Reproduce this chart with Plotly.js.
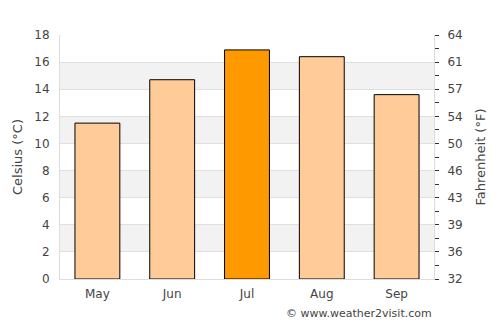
<!DOCTYPE html>
<html>
<head>
<meta charset="utf-8">
<script src="https://cdn.plot.ly/plotly-3.0.1.min.js"></script>
<style>html,body{margin:0;padding:0;background:#fff;}#chart{width:500px;height:325px;}</style>
</head>
<body>
<div id="chart"></div>
<script>
const months = ["May", "Jun", "Jul", "Aug", "Sep"];
const celsius = [11.5, 14.7, 16.9, 16.4, 13.6];
const barColors = ["#ffcc99", "#ffcc99", "#ff9900", "#ffcc99", "#ffcc99"];
const celsiusTicks = [0, 2, 4, 6, 8, 10, 12, 14, 16, 18];
const fahrenheitLabels = ["32", "36", "39", "43", "46", "50", "54", "57", "61", "64"];
const bandRanges = [[2, 4], [6, 8], [10, 12], [14, 16]];

const font = "DejaVu Sans, sans-serif";
const shapes = bandRanges.map(r => ({
  type: "rect", xref: "paper", yref: "y", x0: 0, x1: 1, y0: r[0], y1: r[1],
  fillcolor: "#f2f2f2", line: {width: 0}, layer: "below"
}));

const data = [
  {type: "bar", x: months, y: celsius, width: 0.6,
   marker: {color: barColors, line: {color: "#000", width: 1}},
   hoverinfo: "none", yaxis: "y"},
  {type: "scatter", x: months, y: celsius, yaxis: "y2", mode: "none",
   showlegend: false, hoverinfo: "none"}
];

const layout = {
  width: 500, height: 325,
  margin: {l: 60, r: 66, t: 35, b: 46},
  paper_bgcolor: "#fff", plot_bgcolor: "rgba(0,0,0,0)",
  showlegend: false,
  font: {family: font, size: 12, color: "#444"},
  shapes: shapes,
  xaxis: {
    showgrid: false, zeroline: false, showline: true, linecolor: "#dddddd",
    ticks: "", ticklabelstandoff: 4, tickfont: {size: 12, color: "#444"}
  },
  yaxis: {
    range: [0, 18], tickvals: celsiusTicks, showgrid: true, gridcolor: "#e0e0e0",
    zeroline: false, showline: true, linecolor: "#dddddd", ticks: "",
    ticklabelstandoff: 7, tickfont: {size: 12, color: "#444"},
    title: {text: "Celsius (°C)", font: {size: 13, color: "#444"}, standoff: 8}
  },
  yaxis2: {
    overlaying: "y", side: "right", range: [0, 18],
    tickvals: celsiusTicks, ticktext: fahrenheitLabels,
    showgrid: false, zeroline: false, showline: true, linecolor: "#dddddd",
    ticks: "outside", ticklen: 4, tickcolor: "#333", tickwidth: 1,
    minor: {dtick: 1, tick0: 0, ticks: "outside", ticklen: 4, tickcolor: "#333", showgrid: false},
    ticklabelstandoff: 6, tickfont: {size: 12, color: "#444"},
    title: {text: "Fahrenheit (°F)", font: {size: 13, color: "#444"}, standoff: 14}
  },
  annotations: [{
    text: "© www.weather2visit.com", xref: "paper", yref: "paper",
    x: 1, y: 0, xanchor: "right", yanchor: "top", yshift: -26, showarrow: false,
    font: {size: 11, color: "#444", family: font}
  }]
};

Plotly.newPlot("chart", data, layout, {staticPlot: true, displayModeBar: false});
</script>
</body>
</html>
